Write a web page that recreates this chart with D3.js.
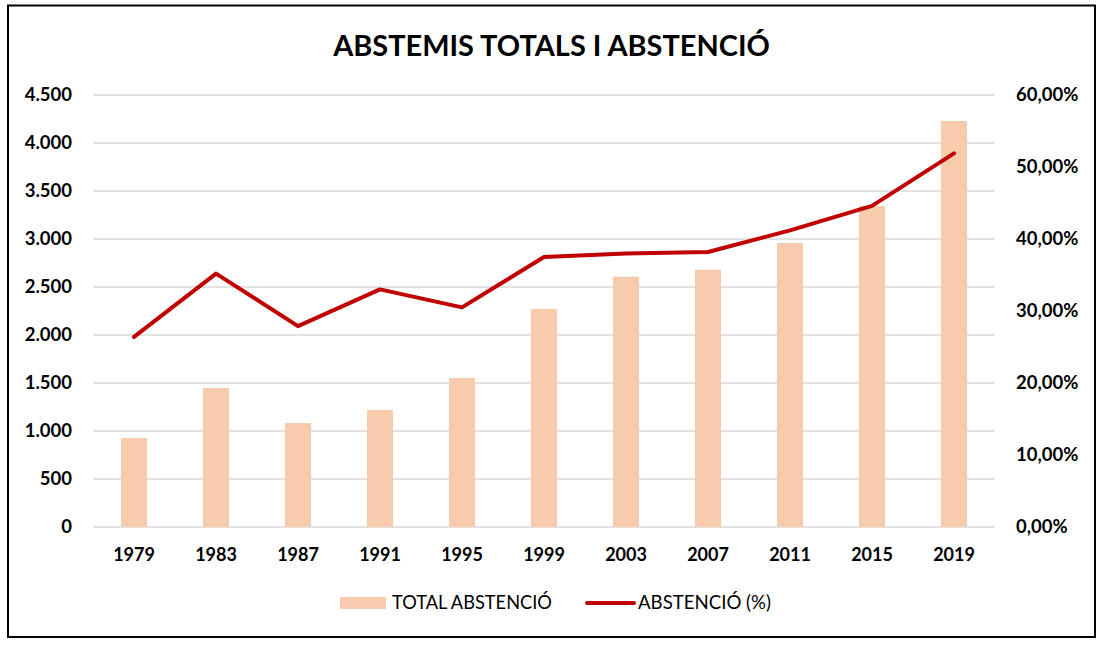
<!DOCTYPE html>
<html><head><meta charset="utf-8">
<script src="https://cdn.jsdelivr.net/npm/d3@7"></script>
<style>body{margin:0;background:#fff;} svg{display:block;font-family:Lato,"Open Sans",sans-serif;}</style>
</head><body>
<script>
const years = ["1979","1983","1987","1991","1995","1999","2003","2007","2011","2015","2019"];
const totalAbstencio = [927,1448,1083,1219,1552,2271,2608,2680,2958,3344,4229];
const abstencioPct = [26.4,35.2,27.9,33.0,30.5,37.5,38.0,38.2,41.2,44.6,51.9];
const leftTicks = [0,500,1000,1500,2000,2500,3000,3500,4000,4500];
const rightTicks = [0,10,20,30,40,50,60];
const title = "ABSTEMIS TOTALS I ABSTENCIÓ";
const legendLabels = ["TOTAL ABSTENCIÓ","ABSTENCIÓ (%)"];

const W=1104,H=645;
const svg=d3.select("body").append("svg").attr("width",W).attr("height",H);
svg.append("rect").attr("x",8).attr("y",5.5).attr("width",1087).attr("height",631.5)
  .attr("fill","#fff").attr("stroke","#000").attr("stroke-width",2);

const x0=93,x1=995,yTop=95,yBot=527;
const x=d3.scaleBand().domain(years).range([x0,x1]).paddingInner(0.68).paddingOuter(0.34);
const yL=d3.scaleLinear().domain([0,4500]).range([yBot,yTop]);
const yR=d3.scaleLinear().domain([0,60]).range([yBot,yTop]);
const fmtL=d3.formatLocale({decimal:",",thousands:".",grouping:[3]});
const fmtN=fmtL.format(",d");
const fmtP=v=>fmtL.format(",.2f")(v)+"%";

function fit(sel,target){const w=sel.node().getComputedTextLength();const fs=parseFloat(sel.attr("font-size"));sel.attr("font-size",fs*target/w);}

// grid
svg.append("g").selectAll("line").data(leftTicks).join("line")
  .attr("x1",x0).attr("x2",x1).attr("y1",d=>yL(d)).attr("y2",d=>yL(d))
  .attr("stroke","#d9d9d9").attr("stroke-width",1.5);

// bars
const cx=d=>x(d)+x.bandwidth()/2;
svg.append("g").selectAll("rect").data(years).join("rect")
  .attr("x",d=>cx(d)-13).attr("width",26)
  .attr("y",(d,i)=>yL(totalAbstencio[i])).attr("height",(d,i)=>yBot-yL(totalAbstencio[i]))
  .attr("fill","#F8CBAD");

// line
const line=d3.line().x((d,i)=>cx(years[i])).y(d=>yR(d));
svg.append("path").datum(abstencioPct).attr("d",line).attr("fill","none")
  .attr("stroke","#C00000").attr("stroke-width",4).attr("stroke-linejoin","round").attr("stroke-linecap","round");

// left axis labels
const lAxis=svg.append("g").attr("transform",`translate(72,0)`)
  .call(d3.axisLeft(yL).tickValues(leftTicks).tickFormat(fmtN).tickSize(0).tickPadding(0));
lAxis.select(".domain").remove();
lAxis.selectAll("text").attr("font-family","Lato").attr("font-weight","bold").attr("font-size",18.5).attr("fill","#000");

const rAxis=svg.append("g").attr("transform",`translate(1016,0)`)
  .call(d3.axisRight(yR).tickValues(rightTicks).tickFormat(fmtP).tickSize(0).tickPadding(0));
rAxis.select(".domain").remove();
rAxis.selectAll("text").attr("font-family","Lato").attr("font-weight","bold").attr("font-size",18.5).attr("fill","#000");

const bAxis=svg.append("g").attr("transform",`translate(0,${yBot})`)
  .call(d3.axisBottom(x).tickSize(0).tickPadding(0));
bAxis.select(".domain").remove();
bAxis.selectAll("text").attr("dy",null).attr("y",34).attr("font-family","Lato").attr("font-weight","bold").attr("font-size",18).attr("fill","#000");

// title
const t=svg.append("text").attr("x",551.5).attr("y",56).attr("text-anchor","middle")
  .attr("font-weight","bold").attr("font-size",30).attr("fill","#000").text(title);
fit(t,437);

// legend
svg.append("rect").attr("x",340).attr("y",597).attr("width",46).attr("height",12).attr("fill","#F8CBAD");
const l1=svg.append("text").attr("x",392).attr("y",609).attr("font-size",17).attr("fill","#000").text(legendLabels[0]);
fit(l1,160);
svg.append("line").attr("x1",587).attr("x2",634).attr("y1",603).attr("y2",603).attr("stroke","#C00000").attr("stroke-width",4).attr("stroke-linecap","round");
const l2=svg.append("text").attr("x",638).attr("y",609).attr("font-size",17).attr("fill","#000").text(legendLabels[1]);
fit(l2,133);
</script>
</body></html>
